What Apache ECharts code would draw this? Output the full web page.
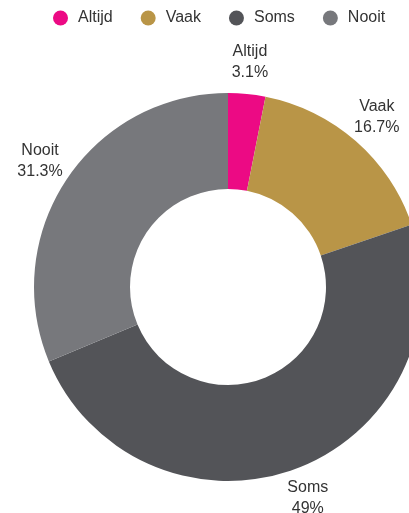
<!DOCTYPE html>
<html>
<head>
<meta charset="utf-8">
<script src="https://cdn.jsdelivr.net/npm/echarts@6/dist/echarts.min.js"></script>
<style>
  html, body { margin: 0; padding: 0; background: #fff; }
  #chart { width: 409px; height: 513px; }
</style>
</head>
<body>
<div id="chart"></div>
<script>
const categories = ["Altijd", "Vaak", "Soms", "Nooit"];
const values = [3.1, 16.7, 49, 31.3];
const colors = ["#ec0a84", "#b99547", "#535458", "#77787c"];

const chart = echarts.init(document.getElementById("chart"));
const data = categories.map((name, i) => ({ name, value: values[i] }));
const center = [228, 287];

chart.setOption({
  animation: false,
  color: colors,
  legend: {
    left: 48,
    top: 5,
    icon: "circle",
    itemWidth: 25,
    itemHeight: 15,
    itemGap: 28,
    textStyle: { fontFamily: "Liberation Sans", fontSize: 16, color: "#333" },
    data: categories
  },
  series: [
    {
      type: "pie",
      center,
      radius: [98, 194],
      startAngle: 90,
      clockwise: true,
      label: { show: false },
      labelLine: { show: false },
      emphasis: { disabled: true },
      data
    },
    {
      // transparent ring, only there to place the centred labels
      type: "pie",
      center,
      radius: [221, 225],
      startAngle: 90,
      clockwise: true,
      silent: true,
      legendHoverLink: false,
      itemStyle: { color: "rgba(0,0,0,0)" },
      label: {
        show: true,
        position: "inside",
        fontFamily: "Liberation Sans",
        fontSize: 16,
        lineHeight: 21,
        color: "#333",
        formatter: (p) => p.name + "\n" + p.value + "%"
      },
      labelLine: { show: false },
      data
    }
  ]
});
</script>
</body>
</html>
